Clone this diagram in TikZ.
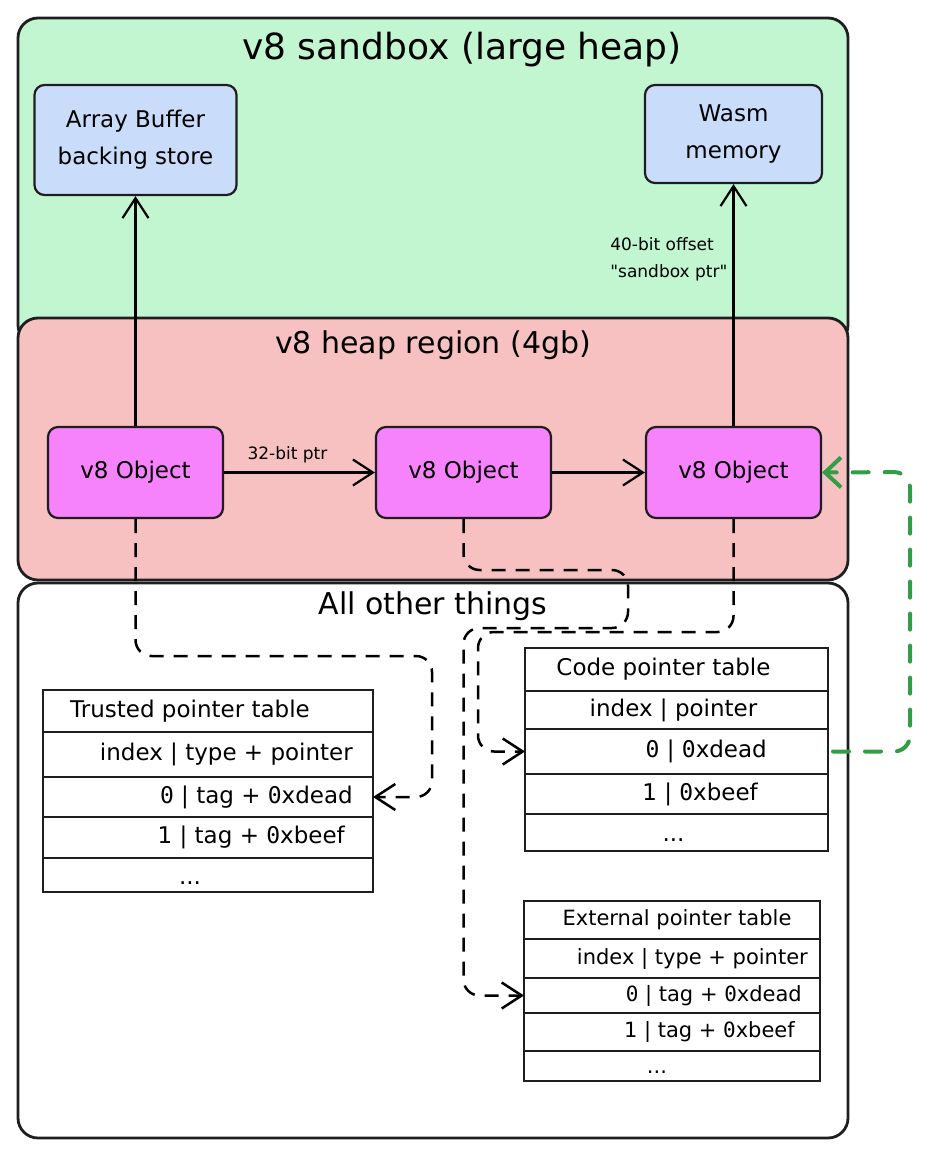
\documentclass[tikz,border=0pt]{standalone}
\usepackage{fontspec}
\setmainfont{DejaVu Sans}
\newfontfamily\zerofont{DejaVu Sans Mono}
\usepackage{tikz}
\usetikzlibrary{arrows.meta,positioning}

\definecolor{sbgreen}{HTML}{C1F6D1}
\definecolor{heappink}{HTML}{F8C1C1}
\definecolor{storeblue}{HTML}{C9DCFA}
\definecolor{objpink}{HTML}{F682FC}
\definecolor{ptrgreen}{HTML}{2F9E44}
\definecolor{ink}{HTML}{1E1E1E}
\newcommand{\zr}{{\zerofont 0}}

\tikzset{
  region/.style={draw=ink, line width=2.8pt, rounded corners=20pt},
  store/.style={draw=ink, line width=2.2pt, rounded corners=10pt, fill=storeblue,
    align=center, font=\fontsize{23}{37}\selectfont},
  object/.style={draw=ink, line width=2.2pt, rounded corners=10pt, fill=objpink,
    minimum width=175pt, minimum height=91pt, font=\fontsize{23}{28}\selectfont},
  cell/.style={draw=ink, line width=2.5pt, outer sep=0pt, inner sep=0pt, minimum width=#1},
  celltext/.style={inner sep=0pt, font=\fontsize{23}{28}\selectfont},
  ptr/.style={draw=black, line width=2.2pt, -{Straight Barb[length=20pt,width=26pt]}},
  lookup/.style={ptr, line width=2.5pt, dash pattern=on 14pt off 10pt, rounded corners=16pt},
  greenptr/.style={draw=ptrgreen, line width=4pt, line cap=round,
    dash pattern=on 16pt off 16pt, rounded corners=16pt,
    -{Straight Barb[length=16pt,width=30pt]}},
}

\begin{document}
\begin{tikzpicture}[x=1pt,y=-1pt]
  \useasboundingbox (0,0) rectangle (931,1156);
  % memory regions
  \draw[region, fill=sbgreen] (18,18) rectangle (848,345);
  \draw[region, fill=heappink] (18,318) rectangle (848,580);
  \draw[region, fill=white] (18,583) rectangle (848,1138);
  \node[font=\fontsize{36}{43}\selectfont] (sbTitle) at (462,50) {v8 sandbox (large heap)};
  \node[font=\fontsize{30}{36}\selectfont] (heapTitle) at (433,345) {v8 heap region (4gb)};
  \node[font=\fontsize{30}{36}\selectfont] (otherTitle) at (433,606) {All other things};

  % sandbox contents
  \node[store, minimum width=202pt, minimum height=110pt] (abuf) at (135.5,140) {Array Buffer\\backing store};
  \node[store, minimum width=177pt, minimum height=98pt] (wasm) at (733.5,134) {Wasm\\memory};
  \node[object] (objA) at (135.5,472.5) {v8 Object};
  \node[object] (objB) at (463.5,472.5) {v8 Object};
  \node[object] (objC) at (733.5,472.5) {v8 Object};

  % trusted pointer table
  \node[cell=330pt, minimum height=42pt, anchor=north west] (tpHead) at (43,690) {};
  \node[cell=330pt, minimum height=45pt, below=0pt of tpHead] (tpIdx) {};
  \node[cell=330pt, minimum height=40pt, below=0pt of tpIdx] (tpRow0) {};
  \node[cell=330pt, minimum height=41pt, below=0pt of tpRow0] (tpRow1) {};
  \node[cell=330pt, minimum height=34pt, below=0pt of tpRow1] (tpMore) {};
  \node[celltext, anchor=west] (tpTitle) at ([xshift=27pt]tpHead.west) {Trusted pointer table};
  \node[celltext, anchor=east] (tpIdxText) at ([xshift=-20pt]tpIdx.east) {index | type + pointer};
  \node[celltext, anchor=east] (tpRow0Text) at ([xshift=-20pt]tpRow0.east) {\zr\ | tag + \zr xdead};
  \node[celltext, anchor=east] (tpRow1Text) at ([xshift=-28pt]tpRow1.east) {1 | tag + \zr xbeef};
  \node[celltext] (tpDots) at ([xshift=-18pt,yshift=-8pt]tpMore.center) {...};

  % code pointer table
  \node[cell=303pt, minimum height=43pt, anchor=north west] (cpHead) at (525,648) {};
  \node[cell=303pt, minimum height=38pt, below=0pt of cpHead] (cpIdx) {};
  \node[cell=303pt, minimum height=45pt, below=0pt of cpIdx] (cpRow0) {};
  \node[cell=303pt, minimum height=40pt, below=0pt of cpRow0] (cpRow1) {};
  \node[cell=303pt, minimum height=37pt, below=0pt of cpRow1] (cpMore) {};
  \node[celltext] (cpTitle) at ([xshift=-13pt]cpHead.center) {Code pointer table};
  \node[celltext] (cpIdxText) at ([xshift=-3pt]cpIdx.center) {index | pointer};
  \node[celltext, anchor=east] (cpRow0Text) at ([xshift=-61pt]cpRow0.east) {\zr\ | \zr xdead};
  \node[celltext, anchor=east] (cpRow1Text) at ([xshift=-70pt]cpRow1.east) {1 | \zr xbeef};
  \node[celltext] (cpDots) at ([xshift=-3pt,yshift=-8pt]cpMore.center) {...};

  % external pointer table
  \node[cell=296pt, minimum height=38pt, anchor=north west] (epHead) at (524,901) {};
  \node[cell=296pt, minimum height=39pt, below=0pt of epHead] (epIdx) {};
  \node[cell=296pt, minimum height=35pt, below=0pt of epIdx] (epRow0) {};
  \node[cell=296pt, minimum height=38pt, below=0pt of epRow0] (epRow1) {};
  \node[cell=296pt, minimum height=30pt, below=0pt of epRow1] (epMore) {};
  \node[celltext, font=\fontsize{21}{25}\selectfont] (epTitle) at ([xshift=5pt]epHead.center) {External pointer table};
  \node[celltext, font=\fontsize{21}{25}\selectfont, anchor=east] (epIdxText) at ([xshift=-12pt]epIdx.east) {index | type + pointer};
  \node[celltext, font=\fontsize{21}{25}\selectfont, anchor=east] (epRow0Text) at ([xshift=-18pt]epRow0.east) {\zr\ | tag + \zr xdead};
  \node[celltext, font=\fontsize{21}{25}\selectfont, anchor=east] (epRow1Text) at ([xshift=-25pt]epRow1.east) {1 | tag + \zr xbeef};
  \node[celltext, font=\fontsize{21}{25}\selectfont] (epDots) at ([xshift=-15pt,yshift=-6pt]epMore.center) {...};

  % pointers
  \draw[ptr] (objA) -- node[above=8pt, pos=0.42, inner sep=0pt, font=\fontsize{17}{20}\selectfont] (ptrLbl) {32-bit ptr} (objB);
  \draw[ptr] (objB) -- (objC);
  \draw[ptr] (objA) -- (abuf);
  \draw[ptr] (objC) -- node[left=5pt, pos=0.69, inner sep=0pt, align=left, font=\fontsize{17}{27}\selectfont] (offLbl) {40-bit offset\\\textquotedbl sandbox ptr\textquotedbl} (wasm);
  \draw[lookup] (objA.south) |- (432,656) |- (tpRow0.east);
  \draw[lookup] (objB.south) |- (628,570) |- (463.5,628) |- (epRow0.west);
  \draw[lookup] (objC.south) |- (478,632) |- (cpRow0.west);
  \draw[greenptr] ([xshift=5pt]cpRow0.east) -| (910,472) -- (objC.east);
\end{tikzpicture}
\end{document}
